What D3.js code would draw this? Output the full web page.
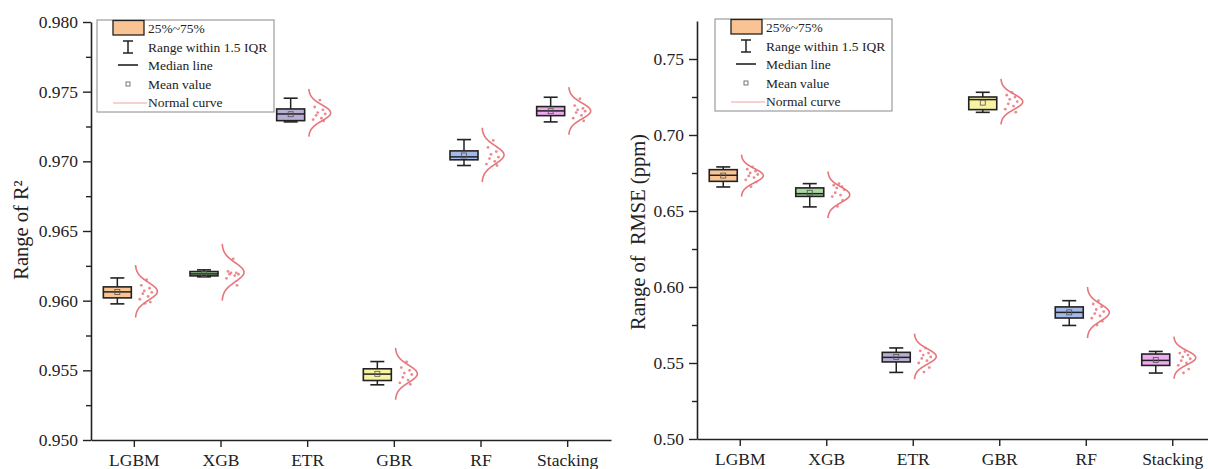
<!DOCTYPE html>
<html>
<head>
<meta charset="utf-8">
<script src="https://cdn.jsdelivr.net/npm/d3@7"></script>
<style>
  body { margin: 0; background: #fff; }
  svg text { font-family: "Liberation Serif", "Times New Roman", Times, "DejaVu Serif", serif !important; }
</style>
</head>
<body>
<svg width="1208" height="469"></svg>
<script>
// categories
const models = ['LGBM', 'XGB', 'ETR', 'GBR', 'RF', 'Stacking'];

// R2 panel box statistics
const r2Low    = [0.95977, 0.96171, 0.97283, 0.95396, 0.96970, 0.97283];
const r2Q1     = [0.96020, 0.96178, 0.97292, 0.95427, 0.97011, 0.97328];
const r2Median = [0.96063, 0.96192, 0.97340, 0.95473, 0.97032, 0.97362];
const r2Q3     = [0.96099, 0.96209, 0.97376, 0.95511, 0.97075, 0.97393];
const r2High   = [0.96163, 0.96221, 0.97453, 0.95563, 0.97156, 0.97460];
const r2Mean   = [0.96062, 0.96192, 0.97338, 0.95475, 0.97042, 0.97360];
const r2CurveMean = [0.96067, 0.96204, 0.97348, 0.95475, 0.97046, 0.97362];
const r2CurveSd   = [0.00063, 0.00068, 0.00057, 0.00062, 0.00065, 0.00057];
const r2Points = [
  [0.9615, 0.9611, 0.9609, 0.9607, 0.9606, 0.9605, 0.9603, 0.9601, 0.9599, 0.9598],
  [0.9630, 0.9621, 0.9620, 0.9620, 0.9619, 0.9619, 0.9618, 0.9616, 0.9611],
  [0.9744, 0.9739, 0.9737, 0.9735, 0.9734, 0.9733, 0.9731, 0.9730, 0.9729],
  [0.9556, 0.9552, 0.9550, 0.9548, 0.9547, 0.9545, 0.9543, 0.9541, 0.9540],
  [0.9715, 0.9710, 0.9707, 0.9705, 0.9703, 0.9702, 0.9700, 0.9698, 0.9697],
  [0.9745, 0.9740, 0.9738, 0.9737, 0.9736, 0.9735, 0.9733, 0.9731, 0.9729]
];
const r2Ticks = [0.950, 0.955, 0.960, 0.965, 0.970, 0.975, 0.980];

// RMSE panel box statistics
const rmseLow    = [0.6658, 0.6527, 0.5438, 0.7149, 0.5747, 0.5434];
const rmseQ1     = [0.6695, 0.6596, 0.5507, 0.7167, 0.5796, 0.5484];
const rmseMedian = [0.6735, 0.6614, 0.5537, 0.7233, 0.5833, 0.5517];
const rmseQ3     = [0.6772, 0.6652, 0.5570, 0.7250, 0.5869, 0.5559];
const rmseHigh   = [0.6790, 0.6680, 0.5599, 0.7281, 0.5910, 0.5576];
const rmseMean   = [0.6733, 0.6620, 0.5540, 0.7213, 0.5833, 0.5520];
const rmseCurveMean = [0.6733, 0.6607, 0.5543, 0.7219, 0.5832, 0.5535];
const rmseCurveSd   = [0.0046, 0.0051, 0.0050, 0.0050, 0.0056, 0.0046];
const rmsePoints = [
  [0.6790, 0.6775, 0.6762, 0.6750, 0.6740, 0.6731, 0.6720, 0.6705, 0.6690, 0.6660],
  [0.6680, 0.6670, 0.6660, 0.6652, 0.6640, 0.6620, 0.6605, 0.6595, 0.6570, 0.6530],
  [0.5598, 0.5580, 0.5565, 0.5552, 0.5540, 0.5530, 0.5515, 0.5500, 0.5470, 0.5440],
  [0.7280, 0.7262, 0.7250, 0.7235, 0.7220, 0.7205, 0.7190, 0.7170, 0.7150],
  [0.5910, 0.5888, 0.5870, 0.5852, 0.5838, 0.5825, 0.5810, 0.5795, 0.5775, 0.5750],
  [0.5575, 0.5565, 0.5552, 0.5540, 0.5528, 0.5515, 0.5500, 0.5485, 0.5460, 0.5435]
];
const rmseTicks = [0.50, 0.55, 0.60, 0.65, 0.70, 0.75];

// styles
const boxFills = ['#f9c393', '#a8d9a0', '#b8afd2', '#f7f3a2', '#a4b9e9', '#efabef'];
const curveColor = '#e6767b';
const jitter = [0.55, 0.2, 0.75, 0.4, 0.9, 0.3, 0.65, 0.1, 0.8, 0.45];
const serif = '"Liberation Serif", "Times New Roman", Times, "DejaVu Serif", serif';

const svg = d3.select('svg');

function drawPanel(cfg) {
  const x = d3.scaleBand().domain(models).range([cfg.x0, cfg.x1]).padding(0);
  const y = d3.scaleLinear().domain(cfg.domain).range([cfg.yBottom, cfg.yTop]);
  const g = svg.append('g').attr('font-family', serif);
  const cx = function (i) { return x(models[i]) + x.bandwidth() / 2; };

  // minor ticks
  g.append('g')
    .attr('transform', 'translate(' + cfg.x0 + ',0)')
    .call(d3.axisLeft(y).tickValues(cfg.minor).tickSize(5).tickFormat(''))
    .call(function (s) { s.select('.domain').remove(); })
    .selectAll('line').attr('stroke', '#222').attr('stroke-width', 1.4);

  // y axis
  const ya = g.append('g')
    .attr('transform', 'translate(' + cfg.x0 + ',0)')
    .call(d3.axisLeft(y).tickValues(cfg.ticks).tickSize(8).tickSizeOuter(0).tickPadding(5)
      .tickFormat(d3.format(cfg.fmt)));
  ya.attr('font-family', serif);
  ya.select('.domain').attr('stroke', '#222').attr('stroke-width', 1.6);
  ya.selectAll('line').attr('stroke', '#222').attr('stroke-width', 1.4);
  ya.selectAll('text').attr('font-size', '17.5px').attr('fill', '#222');

  // x axis
  const xa = g.append('g')
    .attr('transform', 'translate(0,' + cfg.yBottom + ')')
    .call(d3.axisBottom(x).tickSize(7).tickSizeOuter(0).tickPadding(6.5));
  xa.attr('font-family', serif);
  xa.select('.domain').attr('stroke', '#222').attr('stroke-width', 1.6);
  xa.selectAll('line').attr('stroke', '#222').attr('stroke-width', 1.4);
  xa.selectAll('text').attr('font-size', '17.5px').attr('fill', '#222');

  // y title
  g.append('text')
    .attr('transform', 'translate(' + cfg.titleX + ',' + cfg.titleY + ') rotate(-90)')
    .attr('text-anchor', 'middle')
    .attr('font-size', '20.5px')
    .attr('fill', '#222')
    .style('white-space', 'pre')
    .text(cfg.title);

  const boxW = 28, capW = 14, amp = 22;
  models.forEach(function (m, i) {
    const bc = cx(i) - 17;
    const base = cx(i) + 1;
    // whiskers
    g.append('line').attr('x1', bc).attr('x2', bc)
      .attr('y1', y(cfg.high[i])).attr('y2', y(cfg.low[i]))
      .attr('stroke', '#222').attr('stroke-width', 1.5);
    [cfg.high[i], cfg.low[i]].forEach(function (v) {
      g.append('line').attr('x1', bc - capW / 2).attr('x2', bc + capW / 2)
        .attr('y1', y(v)).attr('y2', y(v))
        .attr('stroke', '#222').attr('stroke-width', 1.6);
    });
    // box
    g.append('rect')
      .attr('x', bc - boxW / 2).attr('width', boxW)
      .attr('y', y(cfg.q3[i])).attr('height', y(cfg.q1[i]) - y(cfg.q3[i]))
      .attr('fill', boxFills[i]).attr('stroke', '#222').attr('stroke-width', 1.6);
    // median
    g.append('line').attr('x1', bc - boxW / 2).attr('x2', bc + boxW / 2)
      .attr('y1', y(cfg.median[i])).attr('y2', y(cfg.median[i]))
      .attr('stroke', '#222').attr('stroke-width', 1.5);
    // mean
    g.append('rect').attr('x', bc - 2.5).attr('y', y(cfg.mean[i]) - 2.5)
      .attr('width', 5).attr('height', 5)
      .attr('fill', 'none').attr('stroke', '#555').attr('stroke-width', 0.8);

    // normal curve
    const mu = cfg.cMean[i], sd = cfg.cSd[i];
    const zs = d3.range(-3, 3.0001, 0.05);
    const line = d3.line()
      .x(function (z) { return base + amp * Math.exp(-z * z / 2); })
      .y(function (z) { return y(mu + z * sd); })
      .curve(d3.curveBasis);
    g.append('path').datum(zs).attr('d', line)
      .attr('fill', 'none').attr('stroke', curveColor).attr('stroke-width', 1.6);

    // data points
    cfg.points[i].forEach(function (v, j) {
      g.append('circle')
        .attr('cx', base + 3 + jitter[j % jitter.length] * 15)
        .attr('cy', y(v)).attr('r', 1.4)
        .attr('fill', curveColor).attr('opacity', 0.85);
    });
  });

  // legend
  const lg = g.append('g').attr('transform', 'translate(' + cfg.legX + ',' + cfg.legY + ')');
  lg.append('rect').attr('x', 0).attr('y', 0).attr('width', 177).attr('height', 92)
    .attr('fill', '#fff').attr('stroke', '#888').attr('stroke-width', 1);
  lg.append('rect').attr('x', 16).attr('y', 0.5).attr('width', 31).attr('height', 14.5)
    .attr('fill', boxFills[0]).attr('stroke', '#222').attr('stroke-width', 1.3);
  // whisker icon
  lg.append('line').attr('x1', 31).attr('x2', 31).attr('y1', 21).attr('y2', 33)
    .attr('stroke', '#222').attr('stroke-width', 1.5);
  lg.append('line').attr('x1', 26).attr('x2', 36).attr('y1', 21).attr('y2', 21)
    .attr('stroke', '#222').attr('stroke-width', 1.5);
  lg.append('line').attr('x1', 26).attr('x2', 36).attr('y1', 33).attr('y2', 33)
    .attr('stroke', '#222').attr('stroke-width', 1.5);
  lg.append('line').attr('x1', 21).attr('x2', 41).attr('y1', 45).attr('y2', 45)
    .attr('stroke', '#222').attr('stroke-width', 1.6);
  lg.append('rect').attr('x', 29).attr('y', 62).attr('width', 4).attr('height', 4)
    .attr('fill', 'none').attr('stroke', '#555').attr('stroke-width', 0.8);
  lg.append('line').attr('x1', 16).attr('x2', 50).attr('y1', 83).attr('y2', 83)
    .attr('stroke', '#eea4a8').attr('stroke-width', 1);
  const labels = ['25%~75%', 'Range within 1.5 IQR', 'Median line', 'Mean value', 'Normal curve'];
  labels.forEach(function (t, k) {
    lg.append('text').attr('x', 51).attr('y', 13 + k * 18.5)
      .attr('font-size', '13.5px').attr('fill', '#222').text(t);
  });
}

drawPanel({
  x0: 91, x1: 611, yTop: 22, yBottom: 440, domain: [0.95, 0.98],
  ticks: r2Ticks, minor: d3.range(0.9525, 0.98, 0.005), fmt: '.3f',
  title: 'Range of R\u00b2', titleX: 28, titleY: 230,
  low: r2Low, q1: r2Q1, median: r2Median, q3: r2Q3, high: r2High, mean: r2Mean,
  cMean: r2CurveMean, cSd: r2CurveSd, points: r2Points,
  legX: 97, legY: 20
});

drawPanel({
  x0: 697, x1: 1216, yTop: 21, yBottom: 439, domain: [0.5, 0.775],
  ticks: rmseTicks, minor: d3.range(0.525, 0.775, 0.05), fmt: '.2f',
  title: 'Range of  RMSE (ppm)', titleX: 645, titleY: 232,
  low: rmseLow, q1: rmseQ1, median: rmseMedian, q3: rmseQ3, high: rmseHigh, mean: rmseMean,
  cMean: rmseCurveMean, cSd: rmseCurveSd, points: rmsePoints,
  legX: 715, legY: 19
});
</script>
</body>
</html>
